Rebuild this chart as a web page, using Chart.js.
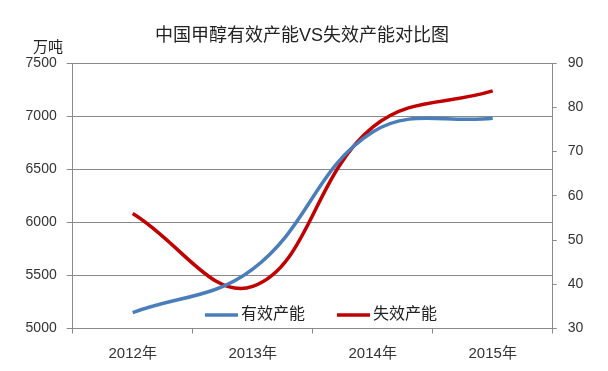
<!DOCTYPE html>
<html lang="zh-CN">
<head>
<meta charset="UTF-8">
<title>中国甲醇有效产能VS失效产能对比图</title>
<script src="https://cdn.jsdelivr.net/npm/chart.js"></script>
<style>
  html, body { margin: 0; padding: 0; background: #fff; }
</style>
</head>
<body>
<canvas id="chart" width="608" height="371"></canvas>
<script>
  // data
  const years = ['2012年', '2013年', '2014年', '2015年'];
  const effective = [5150, 5560, 6850, 6980];   // 有效产能, left axis (万吨)
  const ineffective = [56, 39.5, 75.5, 83.7];   // 失效产能, right axis
  const leftTicks = [5000, 7500, 500];          // min, max, step
  const rightTicks = [30, 90, 10];

  const FONT = '"Liberation Sans", "Noto Sans CJK SC", sans-serif';
  const GRID = '#8a8a8a';
  const BLUE = '#4a7ebb';
  const RED = '#c00000';

  Chart.defaults.font.family = FONT;
  Chart.defaults.color = '#333';

  // title, unit and the legend sitting inside the plot
  const extras = {
    id: 'extras',
    afterDraw(chart) {
      const ctx = chart.ctx;
      ctx.save();
      ctx.fillStyle = '#222';
      ctx.textBaseline = 'middle';
      ctx.textAlign = 'center';
      ctx.font = '18px ' + FONT;
      ctx.fillText('中国甲醇有效产能VS失效产能对比图', 302, 36);
      ctx.font = '15px ' + FONT;
      ctx.fillText('万吨', 48, 48);

      ctx.textAlign = 'left';
      ctx.font = '16px ' + FONT;
      const items = [
        { x: 205, color: BLUE, label: chart.data.datasets[0].label },
        { x: 337, color: RED, label: chart.data.datasets[1].label }
      ];
      items.forEach(it => {
        ctx.strokeStyle = it.color;
        ctx.lineWidth = 3.5;
        ctx.beginPath();
        ctx.moveTo(it.x, 315);
        ctx.lineTo(it.x + 33, 315);
        ctx.stroke();
        ctx.fillText(it.label, it.x + 36, 315);
      });
      ctx.restore();
    }
  };

  const plain = v => String(v);

  new Chart(document.getElementById('chart'), {
    type: 'line',
    data: {
      labels: years,
      datasets: [
        {
          label: '有效产能',
          data: effective,
          yAxisID: 'y',
          borderColor: BLUE,
          borderWidth: 3.5,
          tension: 0.4,
          pointRadius: 0
        },
        {
          label: '失效产能',
          data: ineffective,
          yAxisID: 'y1',
          borderColor: RED,
          borderWidth: 3.5,
          tension: 0.4,
          pointRadius: 0
        }
      ]
    },
    options: {
      responsive: false,
      animation: false,
      devicePixelRatio: 1,
      layout: { padding: { top: 63, left: 0, right: 0, bottom: 0 } },
      plugins: {
        legend: { display: false },
        title: { display: false },
        tooltip: { enabled: false }
      },
      scales: {
        x: {
          offset: true,
          grid: { offset: true, drawOnChartArea: false, color: GRID, tickLength: 5 },
          border: { color: GRID },
          ticks: { padding: 11, font: { size: 15 } },
          afterFit: s => { s.height = 42.5; }
        },
        y: {
          position: 'left',
          min: leftTicks[0],
          max: leftTicks[1],
          grid: { color: GRID, tickLength: 6 },
          border: { color: GRID },
          ticks: { stepSize: leftTicks[2], padding: 10, font: { size: 14 }, callback: plain },
          afterFit: s => { s.width = 72.7; }
        },
        y1: {
          position: 'right',
          min: rightTicks[0],
          max: rightTicks[1],
          grid: { drawOnChartArea: false, color: GRID, tickLength: 4 },
          border: { color: GRID },
          ticks: { stepSize: rightTicks[2], padding: 11, font: { size: 14 }, callback: plain },
          afterFit: s => { s.width = 55.3; }
        }
      }
    },
    plugins: [extras]
  });
</script>
</body>
</html>
